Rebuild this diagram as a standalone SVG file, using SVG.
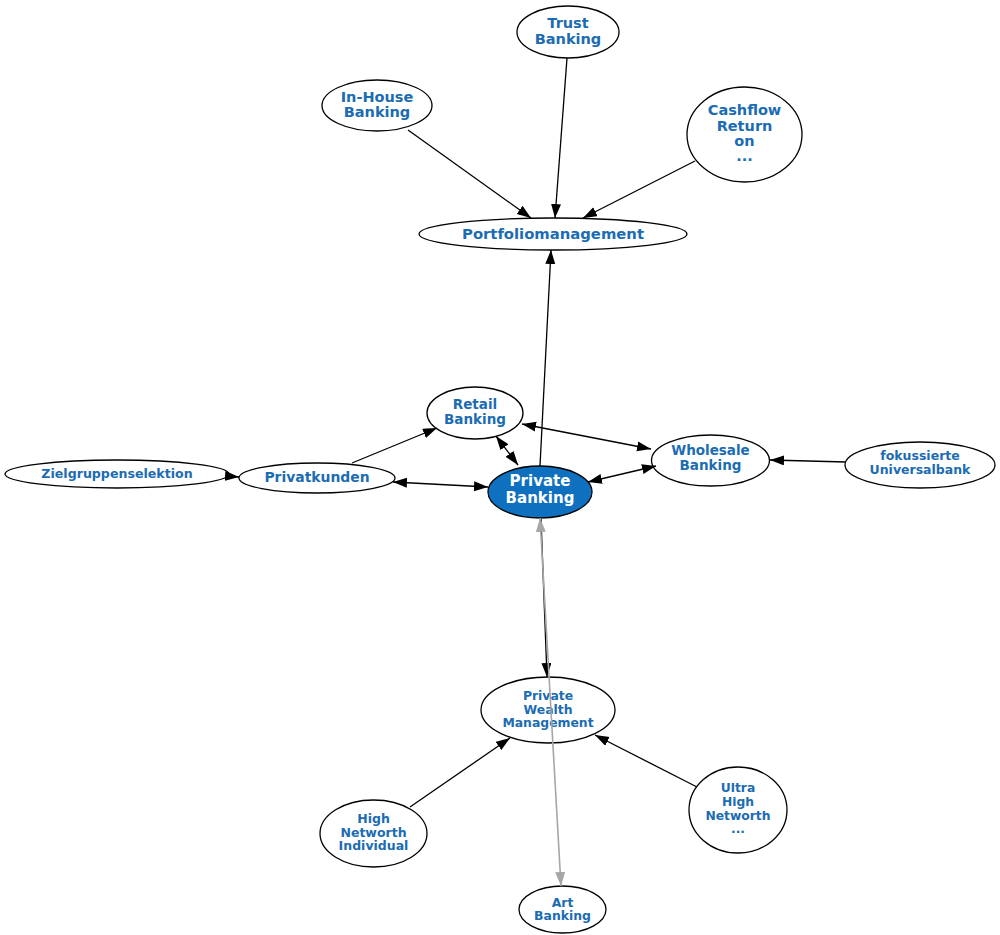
<svg xmlns="http://www.w3.org/2000/svg" width="1000" height="935" viewBox="0 0 1000 935">
<style>
.n ellipse{fill:#ffffff;stroke:#000000;stroke-width:1.3}
.n text{font-family:"DejaVu Sans","Liberation Sans",sans-serif;font-weight:bold;fill:#1b6cb3;text-anchor:middle}
#pb ellipse{fill:#0f70c0;stroke:#000000}
#pb text{fill:#ffffff}
.e{stroke:#000000;stroke-width:1.3;fill:none}
.g{stroke:#a6a6a6;stroke-width:1.6;fill:none}
</style>
<defs>
<marker id="a" markerUnits="userSpaceOnUse" markerWidth="15" markerHeight="11" refX="14" refY="5" orient="auto-start-reverse"><path d="M0,0 L14,5 L0,10 z" fill="#000000"/></marker>
<marker id="ag" markerUnits="userSpaceOnUse" markerWidth="15" markerHeight="11" refX="14" refY="5" orient="auto-start-reverse"><path d="M0,0 L14,5 L0,10 z" fill="#a6a6a6"/></marker>
</defs>
<rect width="1000" height="935" fill="#ffffff"/>
<g id="trust" class="n"><ellipse cx="568" cy="32" rx="51" ry="26"/><text x="568" y="28" font-size="14.5">Trust</text><text x="568" y="43.5" font-size="14.5">Banking</text></g>
<g id="inhouse" class="n"><ellipse cx="377" cy="105.5" rx="55" ry="25.5"/><text x="377" y="101.5" font-size="14.5">In-House</text><text x="377" y="116.5" font-size="14.5">Banking</text></g>
<g id="cashflow" class="n"><ellipse cx="744.5" cy="134.5" rx="57.5" ry="47.5"/><text x="744.5" y="115" font-size="14.5">Cashflow</text><text x="744.5" y="130.5" font-size="14.5">Return</text><text x="744.5" y="146" font-size="14.5">on</text><text x="744.5" y="161" font-size="14.5">...</text></g>
<g id="portfolio" class="n"><ellipse cx="553" cy="234" rx="134" ry="16"/><text x="553" y="238.5" font-size="14.8">Portfoliomanagement</text></g>
<g id="retail" class="n"><ellipse cx="475" cy="413" rx="48" ry="26"/><text x="475" y="409" font-size="13.5">Retail</text><text x="475" y="424" font-size="13.5">Banking</text></g>
<g id="pb" class="n"><ellipse cx="540" cy="492" rx="52" ry="26"/><text x="540" y="486" font-size="15">Private</text><text x="540" y="503" font-size="15">Banking</text></g>
<g id="wholesale" class="n"><ellipse cx="710.5" cy="460.5" rx="59" ry="25.5"/><text x="710.5" y="455" font-size="13.5">Wholesale</text><text x="710.5" y="470" font-size="13.5">Banking</text></g>
<g id="fokus" class="n"><ellipse cx="920" cy="465" rx="75" ry="23"/><text x="920" y="459.5" font-size="12.5">fokussierte</text><text x="920" y="473.5" font-size="12.5">Universalbank</text></g>
<g id="ziel" class="n"><ellipse cx="117" cy="474" rx="112" ry="14"/><text x="117" y="478.3" font-size="12.6">Zielgruppenselektion</text></g>
<g id="privat" class="n"><ellipse cx="317" cy="478" rx="78" ry="15"/><text x="317" y="481.7" font-size="13.9">Privatkunden</text></g>
<g id="pwm" class="n"><ellipse cx="548" cy="710" rx="67" ry="33"/><text x="548" y="700" font-size="12.4">Private</text><text x="548" y="713.5" font-size="12.4">Wealth</text><text x="548" y="727" font-size="12.4">Management</text></g>
<g id="hni" class="n"><ellipse cx="373.5" cy="833.5" rx="53.5" ry="33.5"/><text x="373.5" y="823.3" font-size="12.5">High</text><text x="373.5" y="836.8" font-size="12.5">Networth</text><text x="373.5" y="850.3" font-size="12.5">Individual</text></g>
<g id="ultra" class="n"><ellipse cx="738" cy="810" rx="49" ry="43"/><text x="738" y="792.3" font-size="12.3">Ultra</text><text x="738" y="806" font-size="12.3">High</text><text x="738" y="819.5" font-size="12.3">Networth</text><text x="738" y="833.3" font-size="12.3">...</text></g>
<g id="art" class="n"><ellipse cx="562.5" cy="909.5" rx="43.5" ry="23.5"/><text x="562.5" y="906.7" font-size="12.4">Art</text><text x="562.5" y="920.2" font-size="12.4">Banking</text></g>
<g id="connectors">
<line class="e" x1="408" y1="130" x2="531" y2="218" marker-end="url(#a)"/>
<line class="e" x1="567" y1="58" x2="555" y2="218" marker-end="url(#a)"/>
<line class="e" x1="695" y1="161" x2="583" y2="218" marker-end="url(#a)"/>
<line class="e" x1="540" y1="466" x2="551" y2="250" marker-end="url(#a)"/>
<line class="e" x1="541" y1="519" x2="547" y2="677" marker-end="url(#a)"/>
<line class="g" x1="540" y1="518" x2="561" y2="886" marker-start="url(#ag)" marker-end="url(#ag)"/>
<line class="e" x1="410" y1="807" x2="510" y2="738" marker-end="url(#a)"/>
<line class="e" x1="697" y1="787" x2="595" y2="735" marker-end="url(#a)"/>
<line class="e" x1="226" y1="476" x2="239" y2="477" marker-end="url(#a)"/>
<line class="e" x1="352" y1="463" x2="437" y2="428" marker-end="url(#a)"/>
<line class="e" x1="393" y1="482" x2="488" y2="487" marker-start="url(#a)" marker-end="url(#a)"/>
<line class="e" x1="496" y1="436" x2="518" y2="465" marker-start="url(#a)" marker-end="url(#a)"/>
<line class="e" x1="522" y1="424" x2="651" y2="449" marker-start="url(#a)" marker-end="url(#a)"/>
<line class="e" x1="588" y1="482" x2="656" y2="466" marker-start="url(#a)" marker-end="url(#a)"/>
<line class="e" x1="846" y1="462" x2="770" y2="460" marker-end="url(#a)"/>
</g>
</svg>
